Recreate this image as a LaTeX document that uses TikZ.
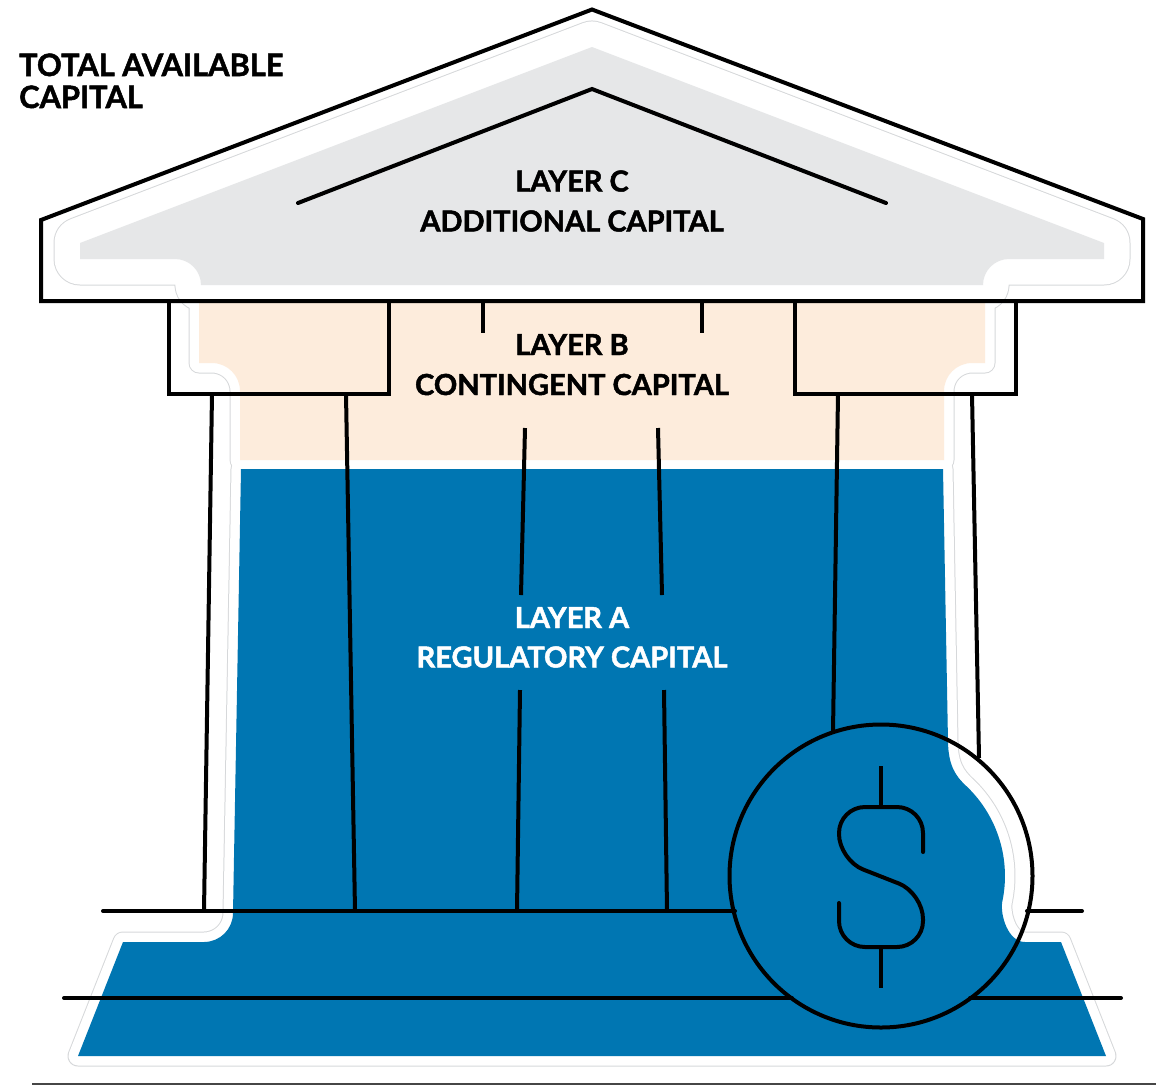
\documentclass[tikz,border=0pt]{standalone}
\usepackage{fontspec}
\newfontfamily\latob{Lato Bold}[FakeBold=1.6]
\definecolor{capblue}{RGB}{0,118,178}
\definecolor{peach}{RGB}{253,236,220}
\definecolor{roofgray}{RGB}{230,231,232}
\definecolor{faintline}{RGB}{214,216,218}
\definecolor{rulegray}{RGB}{70,70,70}
\newcommand\RoofRegion{(80,243) -- (592,47) -- (1104,243) -- (1104,259) -- (1009,259) arc[start angle=270, end angle=180, radius=26] -- (201,285) arc[start angle=0, end angle=-90, radius=26] -- (80,259) -- cycle}
\newcommand\PeachRegion{(199,301) -- (199,363) -- (212,363) arc[start angle=270, end angle=360, radius=28] -- (240,460) -- (944,460) -- (944,391) arc[start angle=180, end angle=270, radius=28] -- (985,363) -- (985,301) -- cycle}
\newcommand\BlueRegion{(241,469) -- (943,469) -- (948,742) .. controls (948.5,765) and (955,776) .. (967.1,786.8) arc[start angle=-46, end angle=12, radius=124] .. controls (1000,915) and (1008,942) .. (1025,942) -- (1061,942) -- (1106,1056) -- (78,1056) -- (123,942) -- (204,942) arc[start angle=90, end angle=0, radius=29] -- cycle}
\begin{document}
\begin{tikzpicture}[x=1pt,y=-1pt,
  ink/.style={draw=black, line width=4},
  colline/.style={ink, line cap=butt},
  groundline/.style={ink, line cap=round},
  lbl/.style={font=\latob\fontsize{29}{34}\selectfont, anchor=base, inner sep=0},
  ttl/.style={font=\latob\fontsize{30.8}{34}\selectfont, anchor=base west, inner sep=0}]
\useasboundingbox (0,0) rectangle (1156,1085);
% white margins with faint outline
\begin{scope}[line join=round]
\draw[faintline, line width=53] \RoofRegion;
\draw[faintline, line width=21] \PeachRegion;
\draw[faintline, line width=21] \BlueRegion;
\draw[white, line width=51] \RoofRegion;
\draw[white, line width=19] \PeachRegion;
\draw[white, line width=19] \BlueRegion;
\end{scope}
% colour fills
\fill[roofgray] \RoofRegion;
\fill[peach] \PeachRegion;
\fill[capblue] \BlueRegion;
% roof
\draw[ink, line join=miter] (41,220) -- (592,9.5) -- (1143,219) -- (1143,301) -- (41,301) -- cycle;
\draw[ink, line cap=round] (298,203) -- (592,89) -- (886,203);
% capitals
\draw[ink, line join=miter] (169,301) -- (169,394) -- (389,394) -- (389,301);
\draw[ink, line join=miter] (795,301) -- (795,394) -- (1016,394) -- (1016,301);
\draw[colline] (483,301) -- (483,333);
\draw[colline] (702,301) -- (702,333);
% coin
\node[draw=black, line width=4, circle, minimum size=303, inner sep=0] (coin) at (881,876) {};
\coordinate (gAl) at (735,911);
\coordinate (gAr) at (1027,911);
\coordinate (gBl) at (792,998);
\coordinate (gBr) at (970,998);
\coordinate (colR1) at (833,732);
\coordinate (colR2) at (979,758);
% columns
\draw[colline] (212,394) -- (204,911);
\draw[colline] (346,394) -- (355,911);
\draw[colline] (525,428) -- (521,595);
\draw[colline] (520,690) -- (517,911);
\draw[colline] (658,428) -- (662,595);
\draw[colline] (664,690) -- (667,911);
\draw[colline] (838,394) -- (colR1);
\draw[colline] (972,394) -- (colR2);
% ground lines
\draw[groundline] (103,911) -- (gAl);
\draw[groundline] (gAr) -- (1082,911);
\draw[groundline] (64,998) -- (gBl);
\draw[groundline] (gBr) -- (1121,998);
% dollar sign
\draw[ink, line cap=round, rounded corners=26] (923,852) -- (923,807) -- (839,807) -- (839,860) -- (923,893) -- (923,947) -- (839,947) -- (839,903);
\draw[colline] (881,766) -- (881,807);
\draw[colline] (881,947) -- (881,988);
% bottom rule
\draw[rulegray, line width=2] (32,1084) -- (1156,1084);
% texts
\node[ttl] (t1) at (19,76) {TOTAL AVAILABLE};
\node[ttl] (t2) at (19,108) {CAPITAL};
\node[lbl] (c1) at (572,191.5) {LAYER C};
\node[lbl] (c2) at (572,231.5) {ADDITIONAL CAPITAL};
\node[lbl] (b1) at (572,355) {LAYER B};
\node[lbl] (b2) at (572,395) {CONTINGENT CAPITAL};
\node[lbl, text=white] (a1) at (572,628) {LAYER A};
\node[lbl, text=white] (a2) at (572,667.5) {REGULATORY CAPITAL};
\end{tikzpicture}
\end{document}
